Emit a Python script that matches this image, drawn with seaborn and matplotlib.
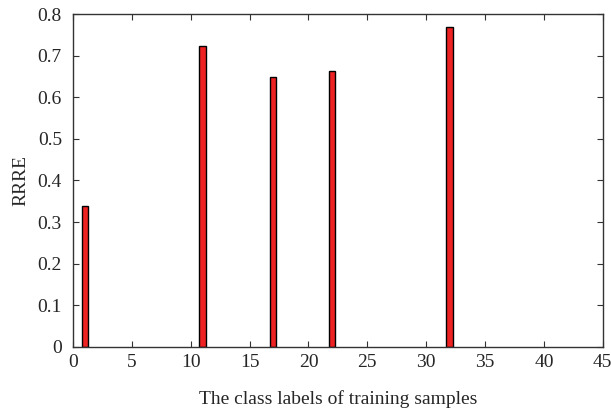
import matplotlib
matplotlib.use("Agg")
import matplotlib.pyplot as plt
import seaborn as sns
import pandas as pd

# class labels and RRRE values
class_labels = [1, 11, 17, 22, 32]
rrre_values = [0.339, 0.723, 0.649, 0.663, 0.768]

sns.set_style("ticks")
plt.rcParams['font.family'] = ['Liberation Serif', 'DejaVu Serif']

df = pd.DataFrame({"label": class_labels, "rrre": rrre_values})

fig = plt.figure(figsize=(6.11, 4.13), dpi=100)
ax = fig.add_axes([0.1195, 0.160, 0.867, 0.806])

sns.barplot(data=df, x="label", y="rrre", native_scale=True, width=0.11,
            color="#ee2222", saturation=1, edgecolor="black", linewidth=1.0, ax=ax)

ax.set_xlim(0, 45)
ax.set_ylim(0, 0.8)
ax.set_xticks(range(0, 46, 5))
ax.set_yticks([i / 10 for i in range(9)])
ax.set_yticklabels(["0"] + [f"{i/10:.1f}" for i in range(1, 9)])
ax.set_xlabel("The class labels of training samples", fontsize=14, labelpad=14)
ax.set_ylabel("RRRE", fontsize=14, labelpad=6)
ax.tick_params(direction="in", top=True, right=True, labelsize=14, length=4, color="#333333")
ax.tick_params(axis="y", pad=8)
ax.tick_params(axis="x", pad=5)
for s in ax.spines.values():
    s.set_color("#333333")
    s.set_linewidth(1.0)

fig.savefig("out.png", dpi=100)
